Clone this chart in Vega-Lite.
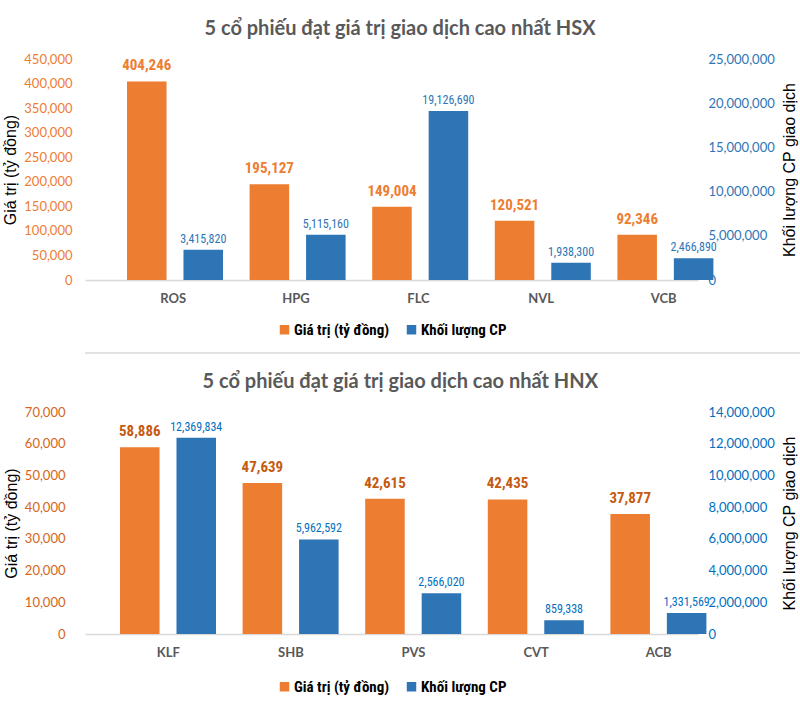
{
  "$schema": "https://vega.github.io/schema/vega-lite/v6.json",
  "padding": {"left": 2, "top": 19, "right": 0, "bottom": 0},
  "background": "white",
  "data": {"values": [
    {"exchange": "HSX", "ticker": "ROS", "series": "Giá trị (tỷ đồng)", "value": 404246},
    {"exchange": "HSX", "ticker": "ROS", "series": "Khối lượng CP", "value": 3415820},
    {"exchange": "HSX", "ticker": "HPG", "series": "Giá trị (tỷ đồng)", "value": 195127},
    {"exchange": "HSX", "ticker": "HPG", "series": "Khối lượng CP", "value": 5115160},
    {"exchange": "HSX", "ticker": "FLC", "series": "Giá trị (tỷ đồng)", "value": 149004},
    {"exchange": "HSX", "ticker": "FLC", "series": "Khối lượng CP", "value": 19126690},
    {"exchange": "HSX", "ticker": "NVL", "series": "Giá trị (tỷ đồng)", "value": 120521},
    {"exchange": "HSX", "ticker": "NVL", "series": "Khối lượng CP", "value": 1938300},
    {"exchange": "HSX", "ticker": "VCB", "series": "Giá trị (tỷ đồng)", "value": 92346},
    {"exchange": "HSX", "ticker": "VCB", "series": "Khối lượng CP", "value": 2466890},
    {"exchange": "HNX", "ticker": "KLF", "series": "Giá trị (tỷ đồng)", "value": 58886},
    {"exchange": "HNX", "ticker": "KLF", "series": "Khối lượng CP", "value": 12369834},
    {"exchange": "HNX", "ticker": "SHB", "series": "Giá trị (tỷ đồng)", "value": 47639},
    {"exchange": "HNX", "ticker": "SHB", "series": "Khối lượng CP", "value": 5962592},
    {"exchange": "HNX", "ticker": "PVS", "series": "Giá trị (tỷ đồng)", "value": 42615},
    {"exchange": "HNX", "ticker": "PVS", "series": "Khối lượng CP", "value": 2566020},
    {"exchange": "HNX", "ticker": "CVT", "series": "Giá trị (tỷ đồng)", "value": 42435},
    {"exchange": "HNX", "ticker": "CVT", "series": "Khối lượng CP", "value": 859338},
    {"exchange": "HNX", "ticker": "ACB", "series": "Giá trị (tỷ đồng)", "value": 37877},
    {"exchange": "HNX", "ticker": "ACB", "series": "Khối lượng CP", "value": 1331569}
  ]},
  "align": "none",
  "spacing": 14,
  "vconcat": [
    {
      "title": {"text": "5 cổ phiếu đạt giá trị giao dịch cao nhất HSX", "frame": "bounds", "anchor": "middle", "font": "Lato", "fontSize": 20, "fontWeight": "bold", "color": "#595959", "offset": 14},
      "width": 613,
      "height": 221,
      "transform": [{"filter": "datum.exchange === 'HSX'"}],
      "encoding": {
        "x": {"field": "ticker", "type": "nominal", "sort": ["ROS", "HPG", "FLC", "NVL", "VCB"], "title": null,
          "scale": {"paddingInner": 0, "paddingOuter": 0},
          "axis": {"labelAngle": 0, "ticks": false, "domainColor": "#D9D9D9", "domainWidth": 1.5, "labelOffset": 27, "labelPadding": 12, "labelFont": "Lato", "labelFontSize": 13, "labelFontWeight": "bold", "labelColor": "#595959"}},
        "xOffset": {"field": "series", "type": "nominal", "scale": {"domain": ["Giá trị (tỷ đồng)", "Khối lượng CP"], "range": [42, 138], "paddingInner": 0.3, "paddingOuter": 0}},
        "color": {"field": "series", "type": "nominal", "scale": {"domain": ["Giá trị (tỷ đồng)", "Khối lượng CP"], "range": ["#ED7D31", "#2E75B6"]},
          "legend": {"title": null, "orient": "bottom", "direction": "horizontal", "symbolType": "square", "symbolSize": 90, "symbolStrokeWidth": 0, "labelFont": "Liberation Sans Narrow, Roboto Condensed, Liberation Sans", "labelFontSize": 15, "labelFontWeight": "bold", "labelColor": "#000000", "columnPadding": 14, "offset": 17, "labelOffset": 2}}
      },
      "layer": [
        {
          "transform": [{"filter": "datum.series === 'Giá trị (tỷ đồng)'"}],
          "encoding": {"y": {"field": "value", "type": "quantitative", "scale": {"domain": [0, 450000], "nice": false},
            "axis": {"title": "Giá trị (tỷ đồng)", "values": [0, 50000, 100000, 150000, 200000, 250000, 300000, 350000, 400000, 450000], "format": ",d", "grid": false, "domain": false, "ticks": false, "labelPadding": 13, "labelFont": "Lato", "labelFontSize": 13, "labelColor": "#ED7D31", "titleFont": "Liberation Sans", "titleFontSize": 16, "titleFontWeight": "normal", "titleColor": "#000000", "titlePadding": 5}}},
          "layer": [
            {"mark": {"type": "bar"}},
            {"mark": {"type": "text", "baseline": "bottom", "dy": -8, "font": "Liberation Sans Narrow, Roboto Condensed, Liberation Sans", "fontSize": 15, "fontWeight": "bold"},
             "encoding": {"text": {"field": "value", "type": "quantitative", "format": ",d"}, "color": {"value": "#ED7D31"}}}
          ]
        },
        {
          "transform": [{"filter": "datum.series === 'Khối lượng CP'"}],
          "encoding": {"y": {"field": "value", "type": "quantitative", "scale": {"domain": [0, 25000000], "nice": false},
            "axis": {"orient": "right", "title": "Khối lượng CP giao dịch", "values": [0, 5000000, 10000000, 15000000, 20000000, 25000000], "format": ",d", "grid": false, "domain": false, "ticks": false, "labelPadding": 10, "labelFont": "Lato", "labelFontSize": 13, "labelColor": "#2E75B6", "titleFont": "Liberation Sans", "titleFontSize": 16, "titleFontWeight": "normal", "titleColor": "#000000", "titlePadding": 7, "titleAngle": 270, "titleBaseline": "top"}}},
          "layer": [
            {"mark": {"type": "bar"}},
            {"mark": {"type": "text", "baseline": "bottom", "dy": -4, "font": "Liberation Sans Narrow, Roboto Condensed, Liberation Sans", "fontSize": 12},
             "encoding": {"text": {"field": "value", "type": "quantitative", "format": ",d"}, "color": {"value": "#2E75B6"}}}
          ]
        }
      ],
      "resolve": {"scale": {"y": "independent"}}
    },
    {
      "width": 798,
      "height": 5,
      "data": {"values": [{"sep": 1}]},
      "mark": {"type": "rule", "color": "#D9D9D9", "strokeWidth": 1.5},
      "encoding": {"y": {"field": "sep", "type": "quantitative", "axis": null, "scale": {"domain": [0, 1]}}}
    },
    {
      "title": {"text": "5 cổ phiếu đạt giá trị giao dịch cao nhất HNX", "frame": "bounds", "anchor": "middle", "font": "Lato", "fontSize": 20, "fontWeight": "bold", "color": "#595959", "offset": 14},
      "width": 613,
      "height": 222,
      "transform": [{"filter": "datum.exchange === 'HNX'"}],
      "encoding": {
        "x": {"field": "ticker", "type": "nominal", "sort": ["KLF", "SHB", "PVS", "CVT", "ACB"], "title": null,
          "scale": {"paddingInner": 0, "paddingOuter": 0},
          "axis": {"labelAngle": 0, "ticks": false, "domainColor": "#D9D9D9", "domainWidth": 1.5, "labelOffset": 22, "labelPadding": 12, "labelFont": "Lato", "labelFontSize": 13, "labelFontWeight": "bold", "labelColor": "#595959"}},
        "xOffset": {"field": "series", "type": "nominal", "scale": {"domain": ["Giá trị (tỷ đồng)", "Khối lượng CP"], "range": [35, 131], "paddingInner": 0.3, "paddingOuter": 0}},
        "color": {"field": "series", "type": "nominal", "scale": {"domain": ["Giá trị (tỷ đồng)", "Khối lượng CP"], "range": ["#ED7D31", "#2E75B6"]},
          "legend": {"title": null, "orient": "bottom", "direction": "horizontal", "symbolType": "square", "symbolSize": 90, "symbolStrokeWidth": 0, "labelFont": "Liberation Sans Narrow, Roboto Condensed, Liberation Sans", "labelFontSize": 15, "labelFontWeight": "bold", "labelColor": "#000000", "columnPadding": 14, "offset": 20, "labelOffset": 2}}
      },
      "layer": [
        {
          "transform": [{"filter": "datum.series === 'Giá trị (tỷ đồng)'"}],
          "encoding": {"y": {"field": "value", "type": "quantitative", "scale": {"domain": [0, 70000], "nice": false},
            "axis": {"title": "Giá trị (tỷ đồng)", "offset": 7, "values": [0, 10000, 20000, 30000, 40000, 50000, 60000, 70000], "format": ",d", "grid": false, "domain": false, "ticks": false, "labelPadding": 13, "labelFont": "Lato", "labelFontSize": 13, "labelColor": "#D5651C", "titleFont": "Liberation Sans", "titleFontSize": 16, "titleFontWeight": "normal", "titleColor": "#000000", "titlePadding": 5}}},
          "layer": [
            {"mark": {"type": "bar"}},
            {"mark": {"type": "text", "baseline": "bottom", "dy": -8, "font": "Liberation Sans Narrow, Roboto Condensed, Liberation Sans", "fontSize": 15, "fontWeight": "bold"},
             "encoding": {"text": {"field": "value", "type": "quantitative", "format": ",d"}, "color": {"value": "#C55A11"}}}
          ]
        },
        {
          "transform": [{"filter": "datum.series === 'Khối lượng CP'"}],
          "encoding": {"y": {"field": "value", "type": "quantitative", "scale": {"domain": [0, 14000000], "nice": false},
            "axis": {"orient": "right", "title": "Khối lượng CP giao dịch", "values": [0, 2000000, 4000000, 6000000, 8000000, 10000000, 12000000, 14000000], "format": ",d", "grid": false, "domain": false, "ticks": false, "labelPadding": 10, "labelFont": "Lato", "labelFontSize": 13, "labelColor": "#0070C0", "titleFont": "Liberation Sans", "titleFontSize": 16, "titleFontWeight": "normal", "titleColor": "#000000", "titlePadding": 7, "titleAngle": 270, "titleBaseline": "top"}}},
          "layer": [
            {"mark": {"type": "bar"}},
            {"mark": {"type": "text", "baseline": "bottom", "dy": -4, "font": "Liberation Sans Narrow, Roboto Condensed, Liberation Sans", "fontSize": 12},
             "encoding": {"text": {"field": "value", "type": "quantitative", "format": ",d"}, "color": {"value": "#0070C0"}}}
          ]
        }
      ],
      "resolve": {"scale": {"y": "independent"}}
    }
  ],
  "resolve": {"scale": {"color": "independent", "xOffset": "independent"}, "legend": {"color": "independent"}},
  "config": {"view": {"stroke": null}, "legend": {"layout": {"bottom": {"anchor": "middle"}}}}
}
